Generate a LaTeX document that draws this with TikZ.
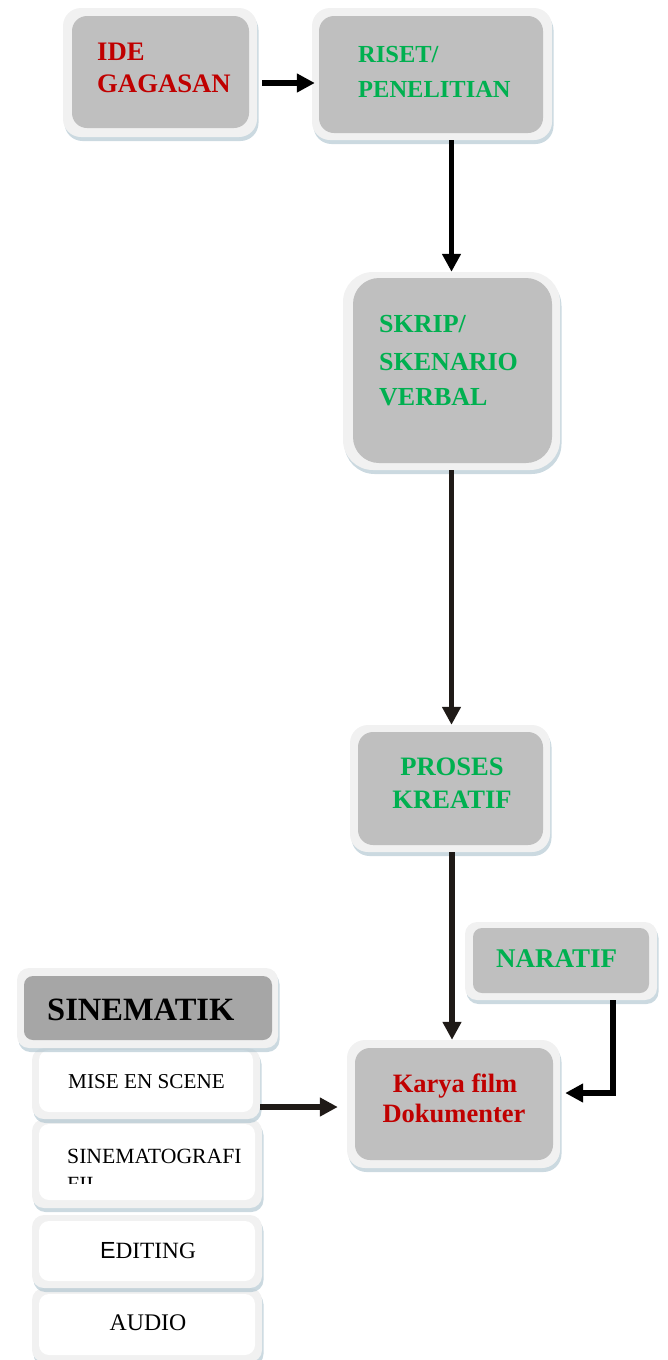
\documentclass[tikz,border=0pt]{standalone}
\usepackage{fontspec}
\setmainfont{Liberation Serif}
\newfontfamily\arialf{Liberation Sans}
\usetikzlibrary{arrows.meta,shadows}
\definecolor{txtred}{HTML}{C00000}
\definecolor{txtgreen}{HTML}{00B050}
\definecolor{innergray}{HTML}{BFBFBF}
\definecolor{darkgray}{HTML}{A6A6A6}
\definecolor{bordergray}{HTML}{F1F1F1}
\definecolor{shadowblue}{HTML}{A9C0CC}
\definecolor{arrowdark}{HTML}{1F1A17}
\tikzset{
  outerbox/.style={rectangle, rounded corners=18pt, fill=bordergray, draw=none, inner sep=0pt,
    drop shadow={shadow xshift=1.5pt, shadow yshift=-4pt, fill=shadowblue, opacity=0.6}},
  innerbox/.style={rectangle, rounded corners=15pt, fill=innergray, draw=none, inner sep=0pt},
  whitebox/.style={rectangle, rounded corners=10pt, fill=white, draw=none, inner sep=0pt},
  bigtxt/.style={inner sep=0pt, font=\fontsize{26}{30}\selectfont\bfseries},
  redtxt/.style={bigtxt, text=txtred},
  greentxt/.style={bigtxt, text=txtgreen},
  smalltxt/.style={inner sep=0pt, text=black},
  arr/.style={line width=5.5pt, -{Triangle[length=18pt,width=18pt]}},
}
\begin{document}
\begin{tikzpicture}[x=1pt,y=-1pt]
\useasboundingbox (0,0) rectangle (668,1360);

% ---- IDE GAGASAN
\node[outerbox, minimum width=194pt, minimum height=129pt] (ide) at (160,72.5) {};
\node[innerbox, minimum width=177pt, minimum height=112pt] (idein) at (160.5,72) {};
\node[redtxt, anchor=base west, font=\fontsize{26.7}{30}\selectfont\bfseries] (ide1) at (97,60) {IDE};
\node[redtxt, anchor=base west, font=\fontsize{26.7}{30}\selectfont\bfseries] (ide2) at (97,92) {GAGASAN};

% ---- RISET
\node[outerbox, minimum width=240pt, minimum height=132pt] (riset) at (432,74) {};
\node[innerbox, minimum width=224pt, minimum height=117pt] (risetin) at (431,74.5) {};
\node[greentxt, anchor=base west, font=\fontsize{24.5}{30}\selectfont\bfseries] (ris1) at (358,62) {RISET/};
\node[greentxt, anchor=base west, font=\fontsize{24.5}{30}\selectfont\bfseries] (ris2) at (358,97) {PENELITIAN};

% ---- SKRIP
\node[outerbox, rounded corners=30pt, minimum width=217pt, minimum height=198pt] (skrip) at (451.5,371) {};
\node[innerbox, rounded corners=26pt, minimum width=199pt, minimum height=185pt] (skripin) at (452.5,370.5) {};
\node[greentxt, anchor=base west] (sk1) at (379,332) {SKRIP/};
\node[greentxt, anchor=base west] (sk2) at (379,370) {SKENARIO};
\node[greentxt, anchor=base west] (sk3) at (379,405) {VERBAL};

% ---- PROSES KREATIF
\node[outerbox, minimum width=200pt, minimum height=127pt] (proses) at (450,788.5) {};
\node[innerbox, minimum width=185pt, minimum height=113pt] (prosesin) at (450.5,788.5) {};
\node[greentxt, anchor=base, font=\fontsize{26.6}{30}\selectfont\bfseries] (pr1) at (452,775) {PROSES};
\node[greentxt, anchor=base, font=\fontsize{26.6}{30}\selectfont\bfseries] (pr2) at (452,808) {KREATIF};

% ---- NARATIF
\node[outerbox, rounded corners=12pt, minimum width=192pt, minimum height=78pt] (naratif) at (561,961) {};
\node[innerbox, rounded corners=9pt, minimum width=176pt, minimum height=65pt] (naratifin) at (561,960.5) {};
\node[greentxt, anchor=base west, font=\fontsize{27}{30}\selectfont\bfseries] (nar1) at (496,967) {NARATIF};

% ---- KARYA
\node[outerbox, minimum width=213pt, minimum height=128pt] (karya) at (453.5,1104) {};
\node[innerbox, minimum width=198pt, minimum height=112pt] (karyain) at (454,1104) {};
\node[redtxt, anchor=base, font=\fontsize{26.5}{30}\selectfont\bfseries] (ka1) at (455,1092) {Karya film};
\node[redtxt, anchor=base, font=\fontsize{26.5}{30}\selectfont\bfseries] (ka2) at (454,1122) {Dokumenter};

% ---- Sinematik column (drawn bottom first)
\node[outerbox, rounded corners=12pt, minimum width=230pt, minimum height=74pt] (audio) at (147,1325) {};
\node[whitebox, minimum width=216pt, minimum height=61pt] (audioin) at (147,1324.5) {};
\node[smalltxt, anchor=base, font=\fontsize{23.8}{26}\selectfont] (au1) at (148,1330) {AUDIO};

\node[outerbox, rounded corners=12pt, minimum width=230pt, minimum height=73pt] (editing) at (147,1251.5) {};
\node[whitebox, minimum width=216pt, minimum height=60pt] (editingin) at (147,1251) {};
\node[smalltxt, anchor=base, font=\fontsize{23.3}{26}\selectfont] (ed1) at (148,1258) {{\arialf E}DITING};

\node[outerbox, rounded corners=12pt, minimum width=230pt, minimum height=89pt] (sinema) at (147,1163.5) {};
\node[whitebox, minimum width=216pt, minimum height=76pt] (sinemain) at (147,1162) {};
\node[smalltxt, anchor=base west, font=\fontsize{21.7}{24}\selectfont] (si1) at (67,1163) {SINEMATOGRAFI};
\begin{scope}
  \clip (55,1170) rectangle (250,1183);
  \node[smalltxt, anchor=base west, font=\fontsize{21.7}{24}\selectfont] (si2) at (67,1191) {FII};
\end{scope}

\node[outerbox, rounded corners=12pt, minimum width=228pt, minimum height=71pt] (mise) at (146,1083.5) {};
\node[whitebox, minimum width=214pt, minimum height=62pt] (misein) at (146,1081) {};
\node[smalltxt, anchor=base west, font=\fontsize{21.2}{24}\selectfont] (mi1) at (68,1088) {MISE EN SCENE};

\node[outerbox, rounded corners=12pt, minimum width=261pt, minimum height=80pt] (sinematik) at (147.5,1008) {};
\node[innerbox, fill=darkgray, rounded corners=9pt, minimum width=248pt, minimum height=64pt] (sinematikin) at (148,1008) {};
\node[smalltxt, anchor=base west, font=\fontsize{32.5}{36}\selectfont\bfseries] (sn1) at (47,1020) {SINEMATIK};

% ---- connectors
\coordinate (ideout) at (262,83);
\draw[arr, black] (ideout) -- ([xshift=3pt]riset.west |- ideout);
\draw[arr, black] (riset.south -| skrip.north) -- (skrip.north);
\draw[arr, arrowdark] (skrip.south) -- (skrip.south |- proses.north);
\draw[arr, arrowdark] (proses.south -| 452,0) -- (karya.north -| 452,0);
\coordinate (nk) at (613,1093);
\draw[arr, black] (naratif.south -| nk) -- (nk) -- ([xshift=5pt]karya.east |- nk);
\coordinate (mk) at (260,1107);
\draw[arr, arrowdark] (mk) -- ([xshift=-9pt]karya.west |- mk);
\end{tikzpicture}
\end{document}
